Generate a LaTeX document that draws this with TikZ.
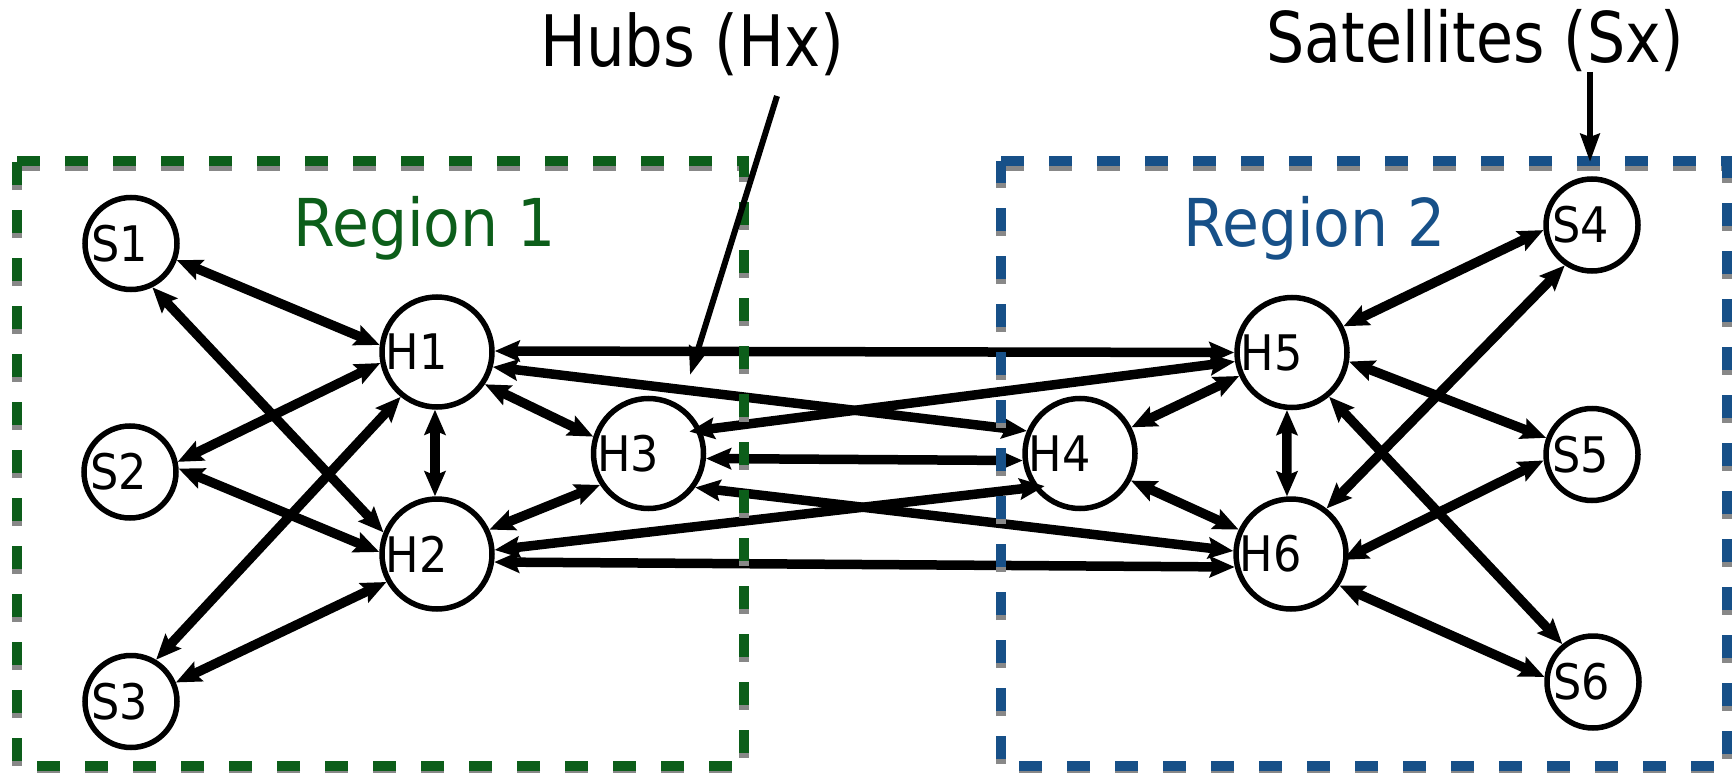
\documentclass[tikz,border=0pt]{standalone}
\usepackage{fontspec}
\setmainfont{DejaVu Sans}[FakeStretch=0.91]
\newfontfamily\titlefont{DejaVu Sans}[FakeStretch=0.86]
\usetikzlibrary{arrows.meta}
\definecolor{regiongreen}{RGB}{12,94,26}
\definecolor{regionblue}{RGB}{23,80,136}
\definecolor{shadowgray}{RGB}{136,136,136}

\begin{document}
\begin{tikzpicture}[x=1pt, y=-1pt,
  hub/.style={circle, draw, line width=5.5pt, minimum size=110pt, inner sep=0pt},
  sat/.style={circle, draw, line width=5.5pt, minimum size=92pt, inner sep=0pt},
  tag/.style={font=\fontsize{49}{58}\selectfont, inner sep=0pt},
  link/.style={line width=9.5pt,
    {Stealth[length=25pt,width=21pt,inset=4pt]}-{Stealth[length=25pt,width=21pt,inset=4pt]}},
  pointer/.style={line width=6pt, -{Stealth[length=28pt,width=19pt,inset=3pt]}},
  regionbox/.style={line width=10pt, dash pattern=on 23pt off 25pt},
  title/.style={font=\titlefont\fontsize{71}{85}\selectfont, anchor=base, inner sep=0pt},
  regiontitle/.style={font=\fontsize{66}{79}\selectfont, anchor=base, inner sep=0pt},
]
\useasboundingbox (0,0) rectangle (1735,773);

% satellites of region 1
\node[sat, label={[tag, name=S1t, xshift=-11pt]center:S1}] (S1) at (131,243.5) {};
\node[sat, label={[tag, name=S2t, xshift=-11pt]center:S2}] (S2) at (130,472) {};
\node[sat, label={[tag, name=S3t, xshift=-11pt]center:S3}] (S3) at (131,701.5) {};
% hubs
\node[hub, label={[tag, name=H1t, xshift=-20.5pt]center:H1}] (H1) at (437,352) {};
\node[hub, label={[tag, name=H2t, xshift=-20.5pt]center:H2}] (H2) at (437,554) {};
\node[hub, label={[tag, name=H3t, xshift=-20.5pt]center:H3}] (H3) at (648.5,453.5) {};
\node[hub, label={[tag, name=H4t, xshift=-20.5pt]center:H4}] (H4) at (1080,453.5) {};
\node[hub, label={[tag, name=H5t, xshift=-20.5pt]center:H5}] (H5) at (1292,352.5) {};
\node[hub, label={[tag, name=H6t, xshift=-20.5pt]center:H6}] (H6) at (1291,554) {};
% satellites of region 2
\node[sat, label={[tag, name=S4t, xshift=-11pt]center:S4}] (S4) at (1592,225) {};
\node[sat, label={[tag, name=S5t, xshift=-11pt]center:S5}] (S5) at (1592,454.5) {};
\node[sat, label={[tag, name=S6t, xshift=-11pt]center:S6}] (S6) at (1593,682) {};

% region 1 links
\draw[link] (S1.-20) -- (H1.173);
\draw[link] (S1.-64) -- (H2.158);
\draw[link] (S2.12) -- (H1.191);
\draw[link] (S2.4) -- (H2.178);
\draw[link] (S3.59) -- (H1.-129);
\draw[link] (S3.23) -- (H2.209);
\draw[link] (H1.-92) -- (H2.92);
\draw[link] (H1.-34) -- (H3.163);
\draw[link] (H2.25) -- (H3.213);

% links between the regions
\draw[link] (H1.1) -- (H5.180);
\draw[link] (H1.-15) -- (H4.157);
\draw[link, shorten <=-12pt] (H3.24) -- (H5.189);
\draw[link] (H3.-5) -- (H4.187);
\draw[link, shorten >=-11.5pt] (H2.4) -- (H4.216);
\draw[link] (H3.-36) -- (H6.177);
\draw[link] (H2.-8) -- (H6.193);

% region 2 links
\draw[link] (H4.27) -- (H5.204);
\draw[link] (H4.-28) -- (H6.155);
\draw[link] (H5.-95) -- (H6.94);
\draw[link] (H5.27) -- (S4.186);
\draw[link] (H6.52) -- (S4.236);
\draw[link] (H5.-9) -- (S5.160);
\draw[link, shorten <=-6.5pt] (H6.-3) -- (S5.187);
\draw[link] (H5.-50) -- (S6.129);
\draw[link] (H6.-33) -- (S6.174);

% dashed region frames with their grey drop shadows
\draw[regionbox, shadowgray] (17,166) -- (744,166) -- (744,771) -- (17,771) -- cycle;
\draw[regionbox, regiongreen] (17,161) -- (744,161) -- (744,766) -- (17,766) -- cycle;
\draw[regionbox, shadowgray] (1001,166) -- (1727,166) -- (1727,771) -- (1001,771) -- cycle;
\draw[regionbox, regionblue] (1001,161) -- (1727,161) -- (1727,766) -- (1001,766) -- cycle;

% titles
\node[regiontitle, text=regiongreen] (R1) at (424.5,246.7) {Region 1};
\node[regiontitle, text=regionblue] (R2) at (1314.5,246.7) {Region 2};
\node[title] (hubs) at (692.5,66.7) {Hubs (Hx)};
\node[title, font=\titlefont\fontsize{70}{84}\selectfont] (sats) at (1475.5,63) {Satellites (Sx)};

% annotation pointers
\coordinate (hubsTail) at (777,96);
\coordinate (hubsTip) at (690,375);
\draw[pointer] (hubsTail) -- (hubsTip);
\coordinate (satsTail) at (1590,72);
\coordinate (satsTip) at (1590,162);
\draw[pointer] (satsTail) -- (satsTip);
\end{tikzpicture}
\end{document}
